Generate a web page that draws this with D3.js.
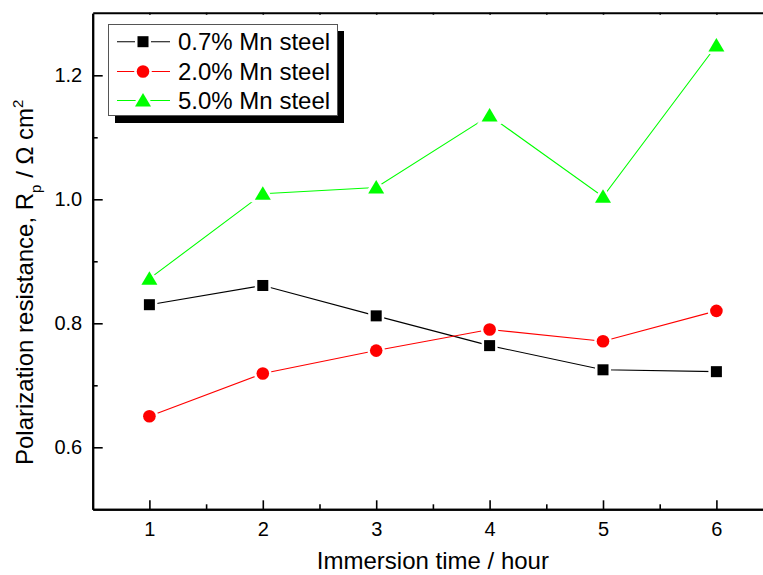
<!DOCTYPE html>
<html>
<head>
<meta charset="utf-8">
<script src="https://cdn.jsdelivr.net/npm/d3@7"></script>
<style>
  html, body { margin: 0; padding: 0; background: #fff; }
  svg { display: block; font-family: "Liberation Sans", Arial, sans-serif; }
</style>
</head>
<body>
<svg id="chart" width="763" height="575"></svg>
<script>
// ---- data ----
const hours = [1, 2, 3, 4, 5, 6];
const mn07 = [0.830, 0.861, 0.812, 0.764, 0.725, 0.722];
const mn20 = [0.650, 0.719, 0.756, 0.790, 0.771, 0.820];
const mn50 = [0.872, 1.009, 1.019, 1.135, 1.004, 1.248];
const seriesNames = ["0.7% Mn steel", "2.0% Mn steel", "5.0% Mn steel"];
const xTicks = [1, 2, 3, 4, 5, 6];
const xMinor = [1.5, 2.5, 3.5, 4.5, 5.5];
const yTicks = [0.6, 0.8, 1.0, 1.2];
const yMinor = [0.7, 0.9, 1.1];
const xLabel = "Immersion time / hour";

const series = [
  { name: seriesNames[0], values: mn07, color: "#000000", shape: "square" },
  { name: seriesNames[1], values: mn20, color: "#FF0000", shape: "circle" },
  { name: seriesNames[2], values: mn50, color: "#00FF00", shape: "triangle" }
];

const svg = d3.select("#chart");
const L = 92.7, R = 773.1, T = 13.3, B = 509.3;
const x = d3.scaleLinear().domain([0.5, 6.5]).range([L, R]);
const y = d3.scaleLinear().domain([0.5, 1.3]).range([B, T]);

// ---- axes ----
const fmtY = d3.format(".1f");
svg.append("g").attr("transform", `translate(0,${B})`)
  .call(d3.axisBottom(x).tickValues(xTicks).tickSize(-9).tickSizeOuter(0).tickPadding(12.5).tickFormat(d3.format("d")));
svg.append("g").attr("transform", `translate(0,${B})`)
  .call(d3.axisBottom(x).tickValues(xMinor).tickSize(-5).tickSizeOuter(0).tickFormat(""));
svg.append("g").attr("transform", `translate(${L},0)`)
  .call(d3.axisLeft(y).tickValues(yTicks).tickSize(-10).tickSizeOuter(0).tickPadding(10.5).tickFormat(fmtY));
svg.append("g").attr("transform", `translate(${L},0)`)
  .call(d3.axisLeft(y).tickValues(yMinor).tickSize(-5).tickSizeOuter(0).tickFormat(""));
// top & right axes (mirror, tiny ticks)
svg.append("g").attr("transform", `translate(0,${T - 0.6})`)
  .call(d3.axisTop(x).tickValues(xTicks.concat(xMinor)).tickSize(-2).tickSizeOuter(0).tickFormat(""));
svg.append("g").attr("transform", `translate(${R},0)`)
  .call(d3.axisRight(y).tickValues(yTicks.concat(yMinor)).tickSize(-2).tickSizeOuter(0).tickFormat(""));

svg.selectAll(".domain").attr("stroke", "#000").attr("stroke-width", 2);
svg.selectAll(".tick line").attr("stroke", "#000").attr("stroke-width", 1.6);
svg.selectAll(".tick text").attr("font-size", 20).attr("fill", "#000")
  .attr("font-family", "'Liberation Sans', Arial, sans-serif");

// ---- axis titles ----
svg.append("text")
  .attr("x", (L + R) / 2).attr("y", 569)
  .attr("text-anchor", "middle").attr("font-size", 24).attr("fill", "#000")
  .text(xLabel);

const yt = svg.append("text")
  .attr("transform", "translate(33,465) rotate(-90)")
  .attr("font-size", 24).attr("fill", "#000");
yt.append("tspan").text("Polarization resistance, R");
yt.append("tspan").attr("font-size", 15).attr("dy", 8).text("p");
yt.append("tspan").attr("dy", -8).text(" / \u03A9 cm");
yt.append("tspan").attr("font-size", 15).attr("dy", -10).text("2");

// ---- markers ----
function drawMarker(g, shape, cx, cy, color) {
  let m;
  if (shape === "square") {
    m = g.append("rect").attr("x", cx - 5.5).attr("y", cy - 5.5).attr("width", 11).attr("height", 11);
  } else if (shape === "circle") {
    m = g.append("circle").attr("cx", cx).attr("cy", cy).attr("r", 6.3);
  } else {
    m = g.append("path").attr("d", `M${cx},${cy - 7.5}L${cx + 8},${cy + 6}L${cx - 8},${cy + 6}Z`);
  }
  m.attr("fill", color).attr("stroke", "#fff").attr("stroke-width", 5)
   .style("paint-order", "stroke");
}

const line = d3.line().x((d, i) => x(hours[i])).y(d => y(d));
series.forEach(s => {
  const g = svg.append("g");
  g.append("path").datum(s.values).attr("d", line)
    .attr("fill", "none").attr("stroke", s.color).attr("stroke-width", 1.1);
  s.values.forEach((v, i) => drawMarker(g, s.shape, x(hours[i]), y(v), s.color));
});

// ---- legend ----
const lg = svg.append("g");
lg.append("rect").attr("x", 115).attr("y", 31).attr("width", 229).attr("height", 92).attr("fill", "#000");
lg.append("rect").attr("x", 108.5).attr("y", 24.5).attr("width", 229).attr("height", 91)
  .attr("fill", "#fff").attr("stroke", "#555").attr("stroke-width", 1);
const rowY = [41.7, 71.5, 100.5];
series.forEach((s, i) => {
  const yy = rowY[i];
  const r = lg.append("g");
  r.append("line").attr("x1", 117).attr("x2", 170).attr("y1", yy).attr("y2", yy)
    .attr("stroke", s.color).attr("stroke-width", 1.1);
  drawMarker(r, s.shape, 143, yy, s.color);
  r.append("text").attr("x", 178).attr("y", yy).attr("dy", "0.36em")
    .attr("font-size", 24).attr("fill", "#000").text(s.name);
});
</script>
</body>
</html>
